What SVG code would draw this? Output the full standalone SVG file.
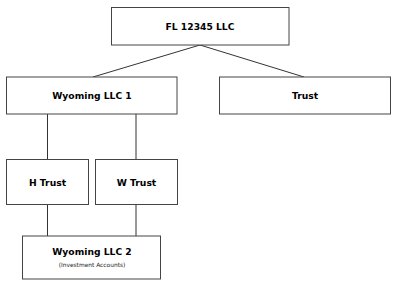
<svg xmlns="http://www.w3.org/2000/svg" width="400" height="288" viewBox="0 0 400 288">
<style>
.box{fill:#fff;stroke:#444;stroke-width:1}
.lbl{font-family:"DejaVu Sans",sans-serif;font-weight:bold;font-size:9.2px;fill:#000;text-anchor:middle;dominant-baseline:central}
.sub{font-family:"DejaVu Sans",sans-serif;font-size:5.9px;fill:#222;text-anchor:middle;dominant-baseline:central}
.conn{stroke:#333;stroke-width:1;fill:none}
</style>
<rect width="400" height="288" fill="#fff"/>
<g id="connectors">
<line class="conn" x1="200" y1="45" x2="93" y2="77"/>
<line class="conn" x1="200" y1="45" x2="304" y2="77"/>
<line class="conn" x1="47.5" y1="114" x2="47.5" y2="159.5"/>
<line class="conn" x1="136" y1="114" x2="136" y2="159.5"/>
<line class="conn" x1="47.5" y1="204.5" x2="47.5" y2="236"/>
<line class="conn" x1="136" y1="204.5" x2="136" y2="236"/>
</g>
<g id="fl">
<rect class="box" x="111.5" y="7.5" width="177.5" height="37.5"/>
<text class="lbl" x="200" y="26.5">FL 12345 LLC</text>
</g>
<g id="wy1">
<rect class="box" x="6.5" y="77" width="170.5" height="37"/>
<text class="lbl" x="92" y="95.5">Wyoming LLC 1</text>
</g>
<g id="trust">
<rect class="box" x="219.5" y="77" width="171" height="37"/>
<text class="lbl" x="305" y="95.5">Trust</text>
</g>
<g id="htrust">
<rect class="box" x="6.5" y="159.5" width="82" height="45"/>
<text class="lbl" x="47.5" y="182">H Trust</text>
</g>
<g id="wtrust">
<rect class="box" x="95.5" y="159.5" width="82" height="45"/>
<text class="lbl" x="136.5" y="182">W Trust</text>
</g>
<g id="wy2">
<rect class="box" x="22.5" y="236" width="138" height="43"/>
<text class="lbl" x="92" y="251">Wyoming LLC 2</text>
<text class="sub" x="92" y="264.5">(Investment Accounts)</text>
</g>
</svg>
